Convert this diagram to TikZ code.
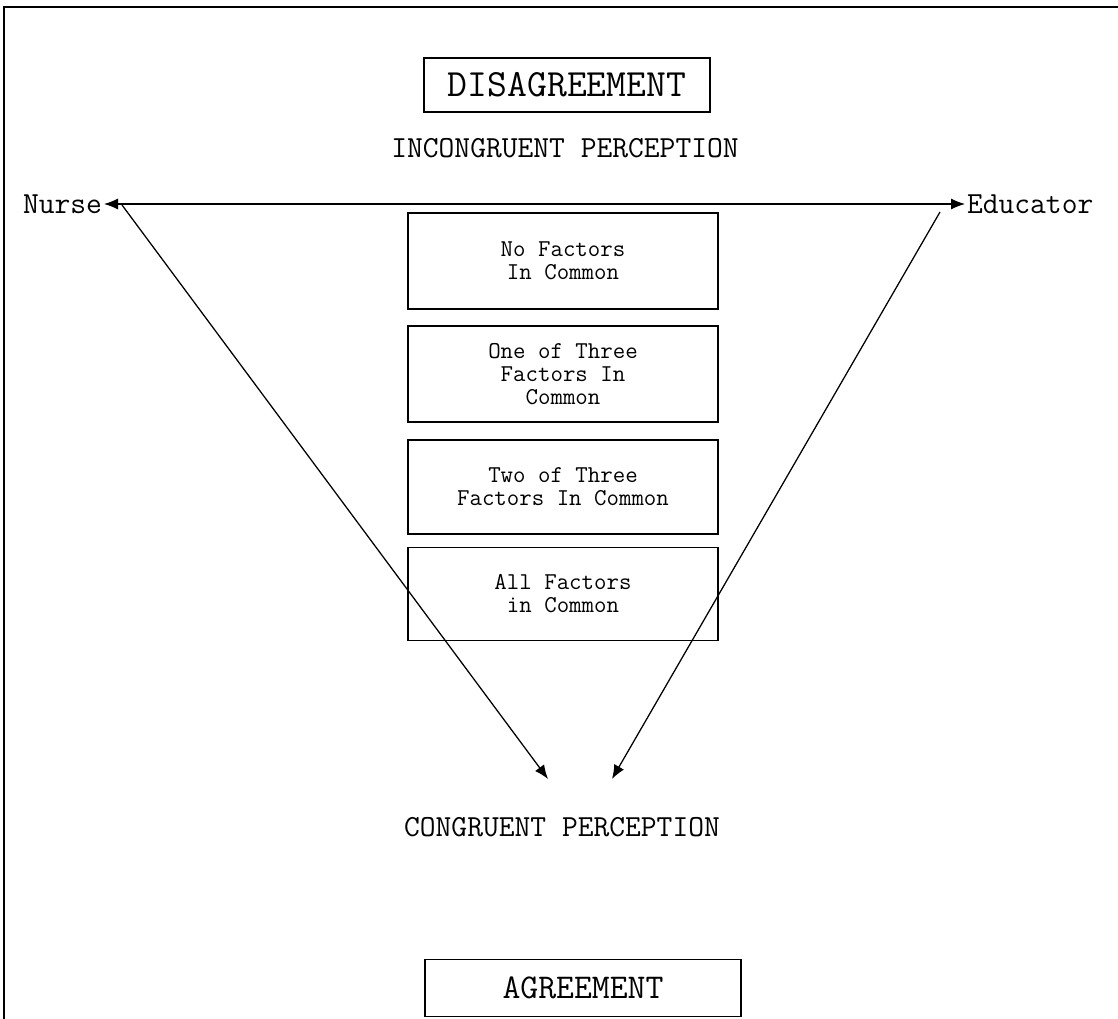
\documentclass[tikz,border=0pt]{standalone}
\usepackage{fontspec}
\usetikzlibrary{arrows.meta}

\begin{document}
\begin{tikzpicture}[x=0.025cm,y=-0.025cm,line width=0.9pt,
   bigbox/.style={draw,line width=1.1pt,minimum height=1.35cm,inner sep=0pt},
   factorbox/.style={draw,line width=1.1pt,minimum width=7.75cm,minimum height=2.4cm,align=center,
      font=\ttfamily\fontsize{17.2}{16.4}\selectfont},
   label/.style={font=\ttfamily\fontsize{21.8}{24}\selectfont,inner sep=1pt},
   tip/.style={-{Latex[length=0.35cm,width=0.28cm]}}]
   \useasboundingbox (0,0) rectangle (1118,1019);
   % frame
   \draw[line width=1.1pt] (4,1019) -- (4,7) -- (1118,7);
   % top and bottom
   \node[bigbox,minimum width=7.15cm,font=\ttfamily\fontsize{27.4}{30}\selectfont] (disagree) at (567,85) {DISAGREEMENT};
   \node[label] (incong) at (565,148) {INCONGRUENT PERCEPTION};
   \node[label] (cong) at (562,827) {CONGRUENT PERCEPTION};
   \node[bigbox,minimum width=7.9cm,minimum height=1.43cm,font=\ttfamily\fontsize{24.7}{27}\selectfont] (agree) at (583,988) {AGREEMENT};
   % the two sides
   \node[label,anchor=east] (nurse) at (104,204) {Nurse};
   \node[label,anchor=west] (educator) at (965,204) {Educator};
   \draw[{Latex[length=0.35cm,width=0.28cm]}-{Latex[length=0.35cm,width=0.28cm]}] (nurse.east) -- (educator.west);
   % factor boxes
   \node[factorbox] (none) at (563,261) {No Factors\\In Common};
   \node[factorbox] (one) at (563,374) {One of Three\\Factors In\\Common};
   \node[factorbox,minimum height=2.35cm] (two) at (563,487) {Two of Three\\Factors In Common};
   \node[factorbox,minimum height=2.33cm] (all) at (563,594) {All Factors\\in Common};
   % diagonals
   \coordinate (lstart) at (122,205);
   \coordinate (rstart) at (940,212);
   \coordinate (lend) at (548,779);
   \coordinate (rend) at (612,779);
   \draw[tip] (lstart) -- (lend);
   \draw[tip] (rstart) -- (rend);
\end{tikzpicture}
\end{document}
